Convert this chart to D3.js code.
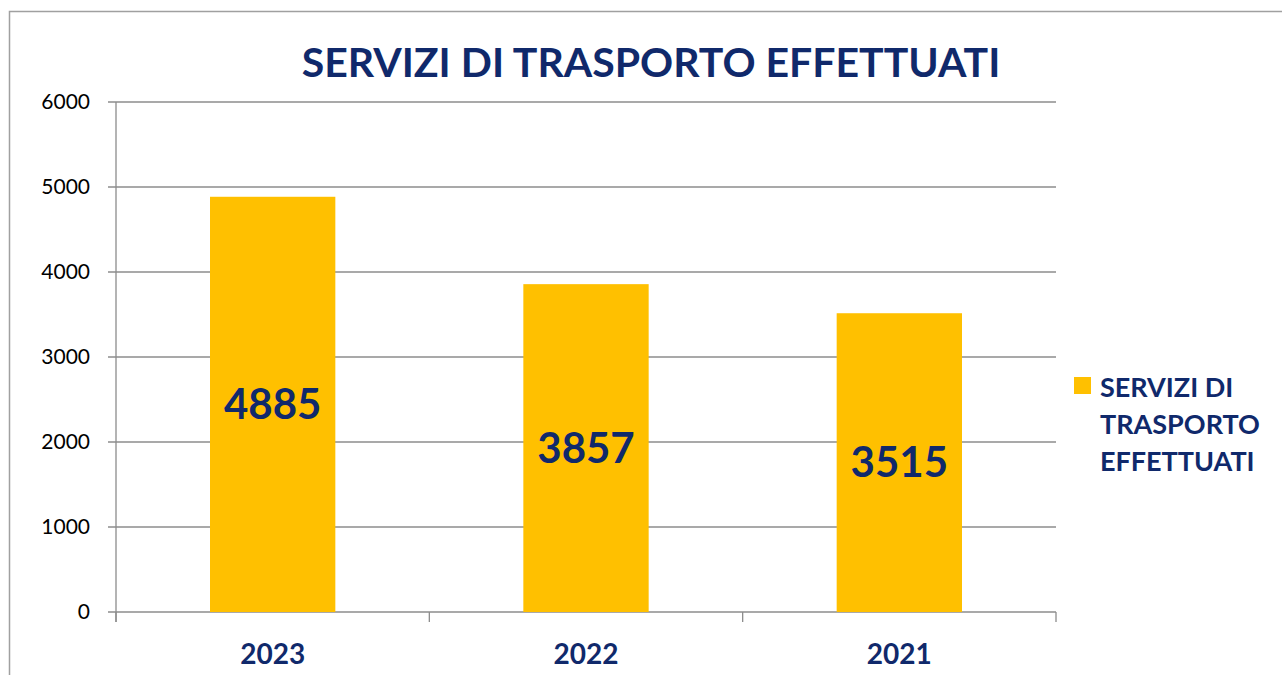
<!DOCTYPE html>
<html>
<head>
<meta charset="utf-8">
<script src="https://cdn.jsdelivr.net/npm/d3@7"></script>
<style>
  body { margin: 0; background: #fff; }
  svg { display: block; font-family: Lato, "Open Sans", sans-serif; }
</style>
</head>
<body>
<div id="chart"></div>
<script>
// Data
var years = ['2023', '2022', '2021'];
var services = [4885, 3857, 3515];
var yTicks = [0, 1000, 2000, 3000, 4000, 5000, 6000];
var chartTitle = 'SERVIZI DI TRASPORTO EFFETTUATI';
var legendLines = ['SERVIZI DI', 'TRASPORTO', 'EFFETTUATI'];

var svgWidth = 1282;
var svgHeight = 675;
var margin = { top: 102, right: 226, bottom: 63, left: 116 };
var width = svgWidth - margin.left - margin.right;
var height = svgHeight - margin.top - margin.bottom;

var navy = '#10296b';
var gold = '#ffc000';
var gridColor = '#8c8c8c';

var svg = d3.select('#chart')
  .append('svg')
  .attr('width', svgWidth)
  .attr('height', svgHeight);

// outer frame
svg.append('path')
  .attr('d', 'M9.5,' + svgHeight + ' V11.5 H' + svgWidth)
  .attr('fill', 'none')
  .attr('stroke', '#a0a0a0')
  .attr('stroke-width', 1.5);

svg.append('text')
  .attr('x', 651)
  .attr('y', 77)
  .attr('text-anchor', 'middle')
  .attr('font-size', 41)
  .attr('font-weight', 'bold')
  .attr('fill', navy)
  .text(chartTitle);

var chartGroup = svg.append('g')
  .attr('transform', `translate(${margin.left}, ${margin.top})`);

var xScale = d3.scaleBand()
  .domain(years)
  .range([0, width])
  .paddingInner(0.6)
  .paddingOuter(0.3);

var yScale = d3.scaleLinear()
  .domain([0, 6000])
  .range([height, 0]);

// gridlines
chartGroup.append('g')
  .selectAll('line')
  .data(yTicks)
  .enter()
  .append('line')
  .attr('x1', -8)
  .attr('x2', width)
  .attr('y1', d => yScale(d))
  .attr('y2', d => yScale(d))
  .attr('stroke', gridColor)
  .attr('stroke-width', 1.3);

// y axis
var yAxis = chartGroup.append('g')
  .call(d3.axisLeft(yScale).tickValues(yTicks).tickFormat(d3.format('d')).tickSize(0).tickPadding(26));
yAxis.select('.domain').remove();
yAxis.selectAll('text')
  .attr('font-size', 21)
  .attr('fill', '#000')
  .attr('font-family', 'Lato, sans-serif');

chartGroup.append('line')
  .attr('x1', 0).attr('x2', 0)
  .attr('y1', 0).attr('y2', height + 10)
  .attr('stroke', gridColor)
  .attr('stroke-width', 1.3);

// x category ticks
var step = width / years.length;
chartGroup.append('g')
  .selectAll('line')
  .data(d3.range(years.length + 1))
  .enter()
  .append('line')
  .attr('x1', d => d * step)
  .attr('x2', d => d * step)
  .attr('y1', height)
  .attr('y2', height + 10)
  .attr('stroke', gridColor)
  .attr('stroke-width', 1.3);

// bars
chartGroup.selectAll('rect.bar')
  .data(services)
  .enter()
  .append('rect')
  .attr('class', 'bar')
  .attr('x', (d, i) => xScale(years[i]))
  .attr('y', d => yScale(d))
  .attr('width', xScale.bandwidth())
  .attr('height', d => height - yScale(d))
  .attr('fill', gold);

// value labels
chartGroup.selectAll('text.val')
  .data(services)
  .enter()
  .append('text')
  .attr('class', 'val')
  .attr('x', (d, i) => xScale(years[i]) + xScale.bandwidth() / 2)
  .attr('y', d => (yScale(d) + height) / 2)
  .attr('dy', '0.35em')
  .attr('text-anchor', 'middle')
  .attr('font-size', 42)
  .attr('font-weight', 'bold')
  .attr('fill', navy)
  .text(d => d);

// x labels
chartGroup.selectAll('text.cat')
  .data(years)
  .enter()
  .append('text')
  .attr('class', 'cat')
  .attr('x', d => xScale(d) + xScale.bandwidth() / 2)
  .attr('y', height + 52)
  .attr('text-anchor', 'middle')
  .attr('font-size', 28)
  .attr('font-weight', 'bold')
  .attr('fill', navy)
  .text(d => d);

// legend
var legend = svg.append('g').attr('transform', 'translate(1074, 377)');
legend.append('rect')
  .attr('width', 17)
  .attr('height', 17)
  .attr('fill', gold);
legend.selectAll('text')
  .data(legendLines)
  .enter()
  .append('text')
  .attr('x', 26)
  .attr('y', (d, i) => 20 + i * 37)
  .attr('font-size', 27)
  .attr('font-weight', 'bold')
  .attr('fill', navy)
  .text(d => d);
</script>
</body>
</html>
